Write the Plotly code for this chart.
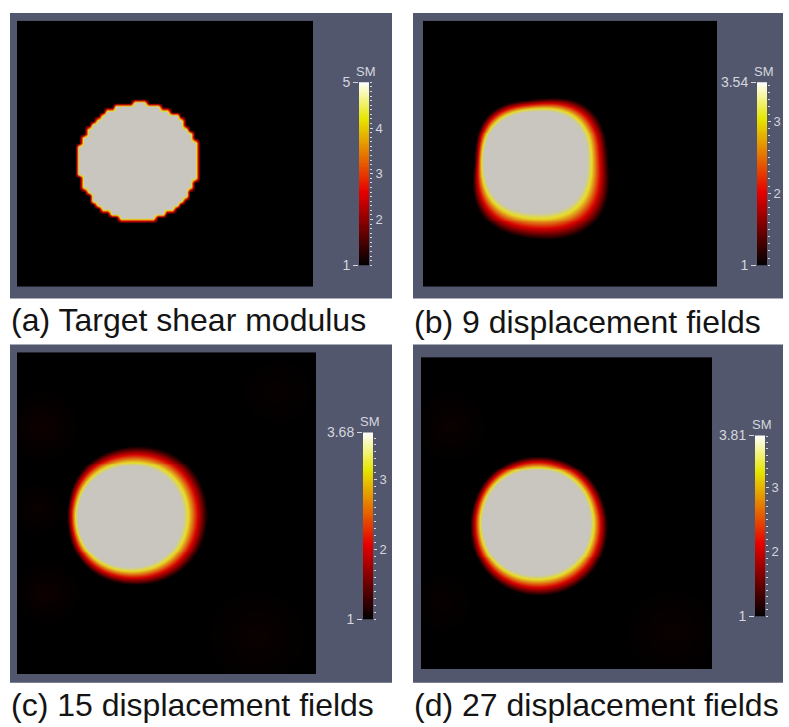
import numpy as np
import plotly.graph_objects as go

FIG_W, FIG_H = 789, 727

# ---------------- data ----------------
captions = ["(a) Target shear modulus", "(b) 9 displacement fields",
            "(c) 15 displacement fields", "(d) 27 displacement fields"]
sm_title = "SM"
sm_min = 1
sm_max = [5, 3.54, 3.68, 3.81]
sm_max_text = ["5", "3.54", "3.68", "3.81"]
major_ticks = [[2, 3, 4], [2, 3], [2, 3], [2, 3]]
minor_step = 0.1

# (a) target: a digitised disk of SM = 5 in a background of SM = 1
target_value = 5
target_center = [121, 144]      # px inside the view
target_radius = 60.5            # px
target_cells = [64, 60]         # mesh cells (x, y)

# (b)-(d) reconstructions: core radius / transition width in 8 directions
# order: E, SE, S, SW, W, NW, N, NE  (image orientation)
recon_center = [[113, 144], [113, 168], [115, 169]]
recon_core = [[51, 55, 52, 55, 53, 55, 52, 56],
              [53, 53, 52, 53, 53, 53, 52, 54],
              [54, 55, 54, 55, 54, 55, 54, 55]]
recon_band = [[21, 30, 27, 22, 9, 13, 12, 20],
              [24, 22, 17, 14, 10, 15, 20, 24],
              [17, 20, 20, 16, 12, 12, 14, 15]]
# faint residual patches in the background (x, y, radius px, fraction of range)
recon_faint = [[],
               [[25, 75, 40, 0.025], [30, 245, 35, 0.025], [240, 290, 55, 0.02],
                [260, 40, 40, 0.015], [20, 160, 30, 0.02]],
               [[30, 70, 40, 0.02], [250, 280, 50, 0.02], [20, 250, 35, 0.015]]]

# ---------------- layout geometry (px) ----------------
panel_box = [(10, 5, 392, 297), (413, 5, 783, 297),
             (10, 344, 392, 690), (413, 344, 783, 690)]
view_box = [(17, 13, 313, 285), (423, 13, 717, 285),
            (17, 352, 316, 681), (421, 357, 712, 676)]
bar_box = [(359, 76, 369, 263), (757, 76, 767, 263),
           (363, 434, 373, 625), (755, 437, 765, 622)]
caption_pos = [(10, 319), (413, 321), (10, 713), (413, 713)]

BG = "rgb(82,87,110)"
TXT = "rgb(214,214,222)"

bar_scale = [[0, "rgb(0,0,0)"], [0.4, "rgb(230,0,0)"],
             [0.8, "rgb(230,230,0)"], [1, "rgb(255,255,255)"]]
lit_scale = [[0, "rgb(0,0,0)"], [0.4, "rgb(215,0,0)"],
             [0.8, "rgb(230,222,40)"], [1, "rgb(200,198,190)"]]


def px_x(v):
    return v / FIG_W


def px_y(v):
    return 1 - v / FIG_H


def smooth_periodic(samples, ang):
    s = np.asarray(samples, float)
    n = len(s)
    th = np.arange(n) * 2 * np.pi / n
    out = np.full_like(ang, s.mean())
    for k in range(1, n // 2 + 1):
        f = 1.0 if k < n // 2 else 0.5
        a = 2 / n * f * np.sum(s * np.cos(k * th))
        b = 2 / n * f * np.sum(s * np.sin(k * th))
        out += a * np.cos(k * ang) + b * np.sin(k * ang)
    return out


def target_field(w, h):
    nx, ny = target_cells
    xs = (np.arange(nx) + 0.5) * w / nx
    ys = (np.arange(ny) + 0.5) * h / ny
    X, Y = np.meshgrid(xs, ys)
    inside = np.hypot(X - target_center[0], Y - target_center[1]) <= target_radius
    return xs, ys, np.where(inside, target_value, sm_min).astype(float)


def recon_field(w, h, center, core, band, faint, vmax, step=2.0):
    xs = np.arange(0, w, step) + step / 2
    ys = np.arange(0, h, step) + step / 2
    X, Y = np.meshgrid(xs, ys)
    dx, dy = X - center[0], Y - center[1]
    r = np.hypot(dx, dy)
    ang = np.arctan2(dy, dx)
    R = smooth_periodic(core, ang)
    B = smooth_periodic(band, ang)
    s = np.clip((R + B - r) / B, 0, 1)
    for fx, fy, fr, fa in faint:
        s = np.maximum(s, fa * np.clip(1 - np.hypot(X - fx, Y - fy) / fr, 0, 1))
    return xs, ys, sm_min + (vmax - sm_min) * s


fig = go.Figure()
layout = dict(width=FIG_W, height=FIG_H, margin=dict(l=0, r=0, t=0, b=0),
              paper_bgcolor="white", plot_bgcolor="rgba(0,0,0,0)",
              showlegend=False, shapes=[], annotations=[])

for k in range(4):
    vmax = sm_max[k]
    x0, y0, x1, y1 = panel_box[k]
    layout["shapes"].append(dict(type="rect", xref="paper", yref="paper",
                                 x0=px_x(x0), x1=px_x(x1), y0=px_y(y1), y1=px_y(y0),
                                 fillcolor=BG, line=dict(width=0), layer="below"))
    vx0, vy0, vx1, vy1 = view_box[k]
    w, h = vx1 - vx0, vy1 - vy0
    if k == 0:
        xs, ys, z = target_field(w, h)
    else:
        xs, ys, z = recon_field(w, h, recon_center[k - 1], recon_core[k - 1],
                                recon_band[k - 1], recon_faint[k - 1], vmax)
    n = k + 1
    fig.add_trace(go.Heatmap(x=xs, y=ys, z=z, zmin=sm_min, zmax=vmax,
                             colorscale=lit_scale, showscale=False, zsmooth="best",
                             xaxis=f"x{n}", yaxis=f"y{n}", hoverinfo="skip"))
    layout[f"xaxis{n}"] = dict(domain=[px_x(vx0), px_x(vx1)], range=[0, w],
                               visible=False, anchor=f"y{n}")
    layout[f"yaxis{n}"] = dict(domain=[px_y(vy1), px_y(vy0)], range=[h, 0],
                               visible=False, anchor=f"x{n}")

    # colour bar
    bx0, by0, bx1, by1 = bar_box[k]
    m = 5 + k
    lv = np.linspace(sm_min, vmax, 200)
    fig.add_trace(go.Heatmap(x=[0.5], y=lv, z=lv.reshape(-1, 1), zmin=sm_min, zmax=vmax,
                             colorscale=bar_scale, showscale=False,
                             xaxis=f"x{m}", yaxis=f"y{m}", hoverinfo="skip"))
    minors = [round(v, 2) for v in np.arange(sm_min, vmax + 1e-9, minor_step)]
    layout[f"xaxis{m}"] = dict(domain=[px_x(bx0), px_x(bx1)], range=[0, 1],
                               visible=False, anchor=f"y{m}")
    layout[f"yaxis{m}"] = dict(domain=[px_y(by1), px_y(by0)], range=[sm_min, vmax],
                               anchor=f"x{m}", side="right", showgrid=False,
                               zeroline=False, showline=False, ticklabeloverflow="allow",
                               tickmode="array", tickvals=major_ticks[k],
                               ticks="outside", ticklen=3, tickwidth=1, tickcolor=TXT,
                               tickfont=dict(family="Liberation Sans, Arial", size=13, color=TXT),
                               minor=dict(tickmode="array", tickvals=minors, ticks="outside",
                                          ticklen=2, tickwidth=1, tickcolor=TXT))
    o = 9 + k
    fig.add_trace(go.Scatter(x=[None], y=[None], xaxis=f"x{m}", yaxis=f"y{o}",
                             hoverinfo="skip", mode="markers"))
    layout[f"yaxis{o}"] = dict(overlaying=f"y{m}", anchor=f"x{m}", side="left",
                               range=[sm_min, vmax], showgrid=False, zeroline=False,
                               showline=False, tickmode="array", ticklabeloverflow="allow",
                               tickvals=[sm_min, vmax], ticktext=["1", sm_max_text[k]],
                               ticks="outside", ticklen=5, tickwidth=1, tickcolor=TXT,
                               tickfont=dict(family="Liberation Sans, Arial", size=14, color=TXT))
    layout["annotations"].append(dict(text=sm_title, xref="paper", yref="paper",
                                      x=px_x((bx0 + bx1) / 2 + 2), y=px_y(by0 - 1),
                                      xanchor="center", yanchor="bottom", showarrow=False,
                                      font=dict(family="Liberation Sans, Arial", size=13, color=TXT)))
    cx, cy = caption_pos[k]
    layout["annotations"].append(dict(text=captions[k], xref="paper", yref="paper",
                                      x=px_x(cx), y=px_y(cy), xanchor="left", yanchor="middle",
                                      showarrow=False, borderpad=0,
                                      font=dict(family="Liberation Sans, Arial", size=32,
                                                color="rgb(20,20,20)")))

fig.update_layout(**layout)
fig.write_html("out.html", config={"displayModeBar": False},
               post_script="document.body.style.margin='0';document.body.style.overflow='hidden';")
